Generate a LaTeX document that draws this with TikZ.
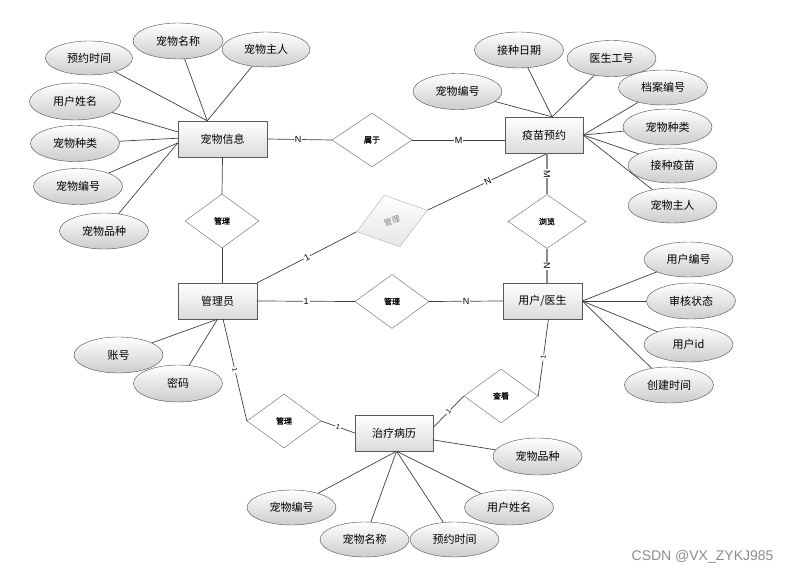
\documentclass[tikz,border=0pt]{standalone}
\usepackage{fontspec}
\setmainfont{Liberation Sans}
\newfontfamily\cjk{Noto Sans CJK SC}
\newfontfamily\cjkrel[FakeBold=1.2]{Noto Sans CJK SC}
\usetikzlibrary{shapes.geometric,shadows}
\tikzset{
	entity/.style={draw=black!65, top color=white, bottom color=black!14, minimum width=79pt, minimum height=36pt, inner sep=0pt, font=\cjk\fontsize{11}{13}\selectfont, drop shadow={shadow xshift=1.2pt, shadow yshift=-1.2pt, opacity=.35}},
	attr/.style={ellipse, draw=black!70, top color=white, bottom color=black!20, minimum width=89pt, minimum height=36pt, inner sep=0pt, font=\cjk\fontsize{11}{13}\selectfont},
	rel/.style={diamond, draw=black!60, fill=white, minimum width=74pt, minimum height=54pt, inner sep=0pt, font=\cjkrel\fontsize{8}{9}\selectfont},
	link/.style={draw=black!75, line width=0.7pt},
	glink/.style={draw=black!45, line width=1.3pt},
	card/.style={fill=white, inner sep=1pt, font=\fontsize{9}{10}\selectfont, midway},
}

\begin{document}
\begin{tikzpicture}[x=1pt, y=-1pt]
		%%%%% START %%%%%
		\useasboundingbox (0,0) rectangle (792,575);
		
		\node[entity, minimum width=89pt] (pet) at (222.5,139) {宠物信息};
		\node[entity, minimum width=78pt] (vacc) at (544,135) {疫苗预约};
		\node[entity] (admin) at (217.5,301) {管理员};
		\node[entity] (user) at (542.5,301) {用户/医生};
		\node[entity, minimum width=78pt] (record) at (394,433) {治疗病历};
		
		\node[rel, minimum width=80pt] (belong) at (372,140) {属于};
		\node[rel] (mgrA) at (222,221) {管理};
		\node[rel, draw=black!30, top color=white, bottom color=black!10, text=black!50, font=\cjk\fontsize{8}{9}\selectfont, rotate=17] (mgrB) at (392,221) {管理};
		\node[rel, minimum width=78pt] (browse) at (547,221.5) {浏览};
		\node[rel] (mgrC) at (392,301.5) {管理};
		\node[rel] (mgrD) at (284,421) {管理};
		\node[rel] (view) at (501,396) {查看};
		
		\node[attr, minimum width=87pt, minimum height=34pt] (p1) at (89,58) {预约时间};
		\node[attr, minimum width=90pt] (p2) at (178,41) {宠物名称};
		\node[attr, minimum width=88pt, minimum height=35pt] (p3) at (266,49.5) {宠物主人};
		\node[attr, minimum width=91pt, minimum height=37pt] (p4) at (75,101.5) {用户姓名};
		\node[attr] (p5) at (75,143.5) {宠物种类};
		\node[attr] (p6) at (78,186.5) {宠物编号};
		\node[attr] (p7) at (104,231) {宠物品种};
		
		\node[attr] (v1) at (519,50) {接种日期};
		\node[attr] (v2) at (611.5,58.5) {医生工号};
		\node[attr] (v3) at (457.5,91.5) {宠物编号};
		\node[attr, minimum height=35pt] (v4) at (663,87.5) {档案编号};
		\node[attr] (v5) at (667.5,127) {宠物种类};
		\node[attr, minimum height=35pt] (v6) at (672.5,165.5) {接种疫苗};
		\node[attr, minimum height=35pt] (v7) at (672.5,205.5) {宠物主人};
		
		\node[attr, minimum height=35pt] (u1) at (688.5,259.5) {用户编号};
		\node[attr] (u2) at (691,301) {审核状态};
		\node[attr, minimum height=35pt] (u3) at (688.5,344.5) {用户id};
		\node[attr] (u4) at (669,385) {创建时间};
		
		\node[attr] (a1) at (118.5,355) {账号};
		\node[attr, minimum height=37pt] (a2) at (178,383.5) {密码};
		
		\node[attr, minimum height=37pt] (r1) at (537.5,456.5) {宠物品种};
		\node[attr, minimum height=35pt] (r2) at (291.5,507.5) {宠物编号};
		\node[attr, minimum height=35pt] (r3) at (364.5,539.5) {宠物名称};
		\node[attr, minimum height=35pt] (r4) at (454.5,539.5) {预约时间};
		\node[attr, minimum height=35pt] (r5) at (509,507.5) {用户姓名};
		
		% attributes
		\foreach \a in {p1,p2,p3} \draw[link] (\a) -- (pet.130);
		\draw[link] (p4) -- (pet.171);
		\draw[link] (p5) -- (pet.179);
		\foreach \a in {p6,p7} \draw[link] (\a) -- (pet.185);
		\foreach \a in {v1,v2,v3} \draw[link] (\a) -- (vacc.66);
		\foreach \a in {v4,v5,v6,v7} \draw[link] (\a) -- (vacc.east);
		\foreach \a in {u1,u2,u3,u4} \draw[link] (\a) -- (user.east);
		\foreach \a in {a1,a2} \draw[link] (\a) -- (admin.south);
		\draw[link] (r1) -- (record.-10);
		\foreach \a in {r2,r3,r4,r5} \draw[link] (\a) -- (record.-82);
		
		% relations
		\draw[link] (pet.east) -- node[card, pos=.48] {N} (belong.west);
		\draw[link] (belong.east) -- node[card] {M} (belong.east -| vacc.west);
		\draw[link] (pet.south) -- (mgrA.north);
		\draw[link] (mgrA.south) -- (mgrA.south |- admin.north);
		\draw[link] (vacc.-78) -- node[card, sloped] {N} (mgrB.east);
		\draw[link] (mgrB.west) -- node[card, sloped] {1} (admin.north east);
		\draw[glink] (browse.north |- vacc.south) -- node[card, sloped] {M} (browse.north);
		\draw[glink] (browse.south) -- node[card, sloped] {N} (browse.south |- user.north);
		\draw[link] (admin.east) -- node[card] {1} (mgrC.west);
		\draw[link] (mgrC.east) -- node[card] {N} (user.west);
		\draw[link] (admin.-73) -- node[card, sloped, font=\fontsize{7}{8}\selectfont] {1} (mgrD.west);
		\draw[link] (mgrD.east) -- node[card, sloped, font=\fontsize{7}{8}\selectfont] {1} (record.west);
		\draw[link] (record.8) -- node[card, sloped, font=\fontsize{7}{8}\selectfont] {1} (view.west);
		\draw[link] (view.east) -- node[card, sloped, font=\fontsize{7}{8}\selectfont] {1} (user.-72);
		
		\node[text=black!45, font=\fontsize{14}{16}\selectfont, anchor=east] (wm) at (777,557) {CSDN @VX\_ZYKJ985};
		%%%%% END %%%%%
\end{tikzpicture}
\end{document}
